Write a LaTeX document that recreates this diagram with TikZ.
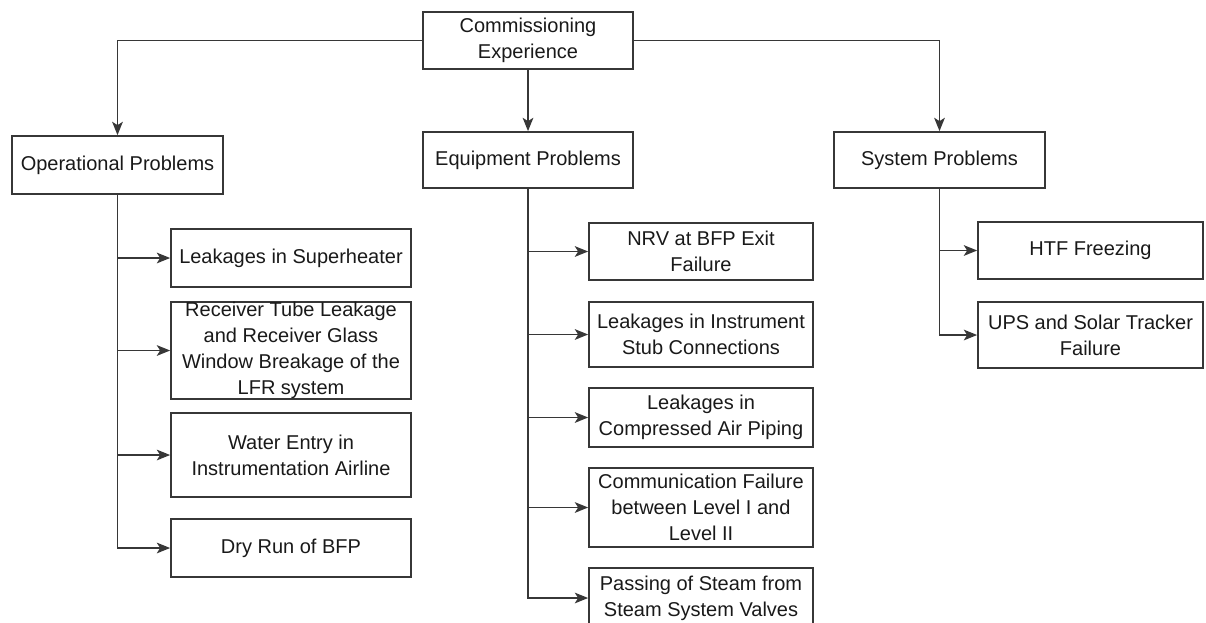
\documentclass[tikz,border=0pt]{standalone}
\usepackage{fontspec}
\setmainfont{Liberation Sans}
\usepackage{tikz}
\usetikzlibrary{positioning,arrows.meta}
\usepackage{xcolor}
\definecolor{linegray}{RGB}{55,55,55}
\definecolor{textgray}{RGB}{25,25,25}
\tikzset{every picture/.style={line width=0.75pt}}
\tikzset{
  probbox/.style={draw=linegray, line width=1.3pt, align=center, text=textgray, inner sep=0pt, font=\fontsize{15}{19.5}\selectfont},
  link/.style={draw=linegray, line width=1.3pt, -{Stealth[length=10pt,width=8pt,inset=2.5pt]}}
}

\begin{document}
\begin{tikzpicture}[x=0.75pt,y=0.75pt,yscale=-1,xscale=1]
\clip (0,0) rectangle (1206,622);

%Top level
\node [probbox, minimum width=157.5pt, minimum height=42.75pt] (root) at (528,40.5) {Commissioning\\Experience};
\node [probbox, minimum width=158.25pt, minimum height=43.5pt] (op) at (117.5,165) {Operational Problems};
\node [probbox, minimum width=157.5pt, minimum height=42pt] (eq) at (528,160) {Equipment Problems};
\node [probbox, minimum width=158.25pt, minimum height=42pt] (sys) at (939.5,160) {System Problems};

%Operational problems
\node [probbox, minimum width=180pt, minimum height=43.5pt] (opa) at (291,258) {Leakages in Superheater};
\node [probbox, minimum width=180pt, minimum height=72.75pt] (opb) at (291,350.5) {Receiver Tube Leakage\\and Receiver Glass\\Window Breakage of the\\LFR system};
\node [probbox, minimum width=180pt, minimum height=63pt] (opc) at (291,455) {Water Entry in\\Instrumentation Airline};
\node [probbox, minimum width=180pt, minimum height=43.5pt] (opd) at (291,548) {Dry Run of BFP};

%Equipment problems
\node [probbox, minimum width=168pt, minimum height=42.75pt] (eqa) at (701,251.5) {NRV at BFP Exit\\Failure};
\node [probbox, minimum width=168pt, minimum height=48.75pt] (eqb) at (701,334.5) {Leakages in Instrument\\Stub Connections};
\node [probbox, minimum width=168pt, minimum height=44.25pt] (eqc) at (701,417.5) {Leakages in\\Compressed Air Piping};
\node [probbox, minimum width=168pt, minimum height=59.25pt] (eqd) at (701,507.5) {Communication Failure\\between Level I and\\Level II};
\node [probbox, minimum width=168pt, minimum height=45pt] (eqe) at (701,598) {Passing of Steam from\\Steam System Valves};

%System problems
\node [probbox, minimum width=168.75pt, minimum height=42.75pt] (sysa) at (1090.5,250.5) {HTF Freezing};
\node [probbox, minimum width=168.75pt, minimum height=49.5pt] (sysb) at (1090.5,335) {UPS and Solar Tracker\\Failure};

%Connectors
\draw [link] (root.west) -| (op.north);
\draw [link] (root.south) -- (eq.north);
\draw [link] (root.east) -| (sys.north);

\foreach \kid in {opa,opb,opc,opd}
  \draw [link] (op.south) |- (\kid.west);
\foreach \kid in {eqa,eqb,eqc,eqd,eqe}
  \draw [link] (eq.south) |- (\kid.west);
\foreach \kid in {sysa,sysb}
  \draw [link] (sys.south) |- (\kid.west);

\end{tikzpicture}
\end{document}
